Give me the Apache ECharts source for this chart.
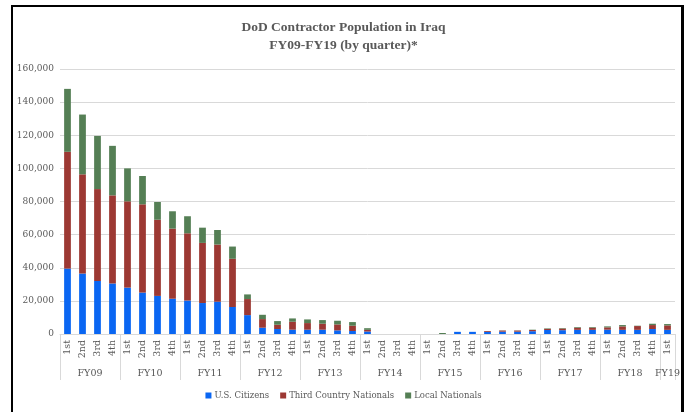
<!DOCTYPE html>
<html>
<head>
<meta charset="utf-8">
<script src="https://cdn.jsdelivr.net/npm/echarts@6/dist/echarts.min.js"></script>
<style>
html,body{margin:0;padding:0;background:#fff;}
#chart{position:absolute;left:0;top:0;width:687px;height:412px;}
#frame{position:absolute;left:11px;top:5px;width:668px;height:420px;border-left:2px solid #000;border-top:2px solid #000;border-right:3px solid #000;pointer-events:none;}
</style>
</head>
<body>
<div id="chart"></div>
<div id="frame"></div>
<script>
const fiscalYears = ['FY09','FY10','FY11','FY12','FY13','FY14','FY15','FY16','FY17','FY18','FY19'];
const quartersPerYear = [4,4,4,4,4,4,4,4,4,4,1];
const quarterNames = ['1st','2nd','3rd','4th'];
const usCitizens = [39500,36500,32000,30500, 28000,25000,23000,21300, 20200,18700,19500,16300, 11400,3800,3000,2600, 2600,2600,2200,1800, 1500,0,0,0, 0,0,1300,1300, 1300,1400,1400,1700, 2400,2300,2500,2500, 2600,2500,2500,3000, 2500];
const thirdCountry = [70500,59900,55500,53200, 52100,53300,46000,42300, 40600,36300,34500,29100, 9700,5200,2600,4800, 4000,3600,3600,3200, 1000,0,0,0, 0,0,0,0, 500,700,700,700, 700,1000,1300,1300, 1400,2100,2300,2400, 2700];
const localNationals = [38000,36100,32100,29900, 19900,17100,10700,10500, 10300,9200,8800,7400, 2800,2600,2200,2000, 2200,2200,2200,2200, 1000,0,0,0, 0,600,0,0, 0,100,100,200, 300,300,400,400, 600,800,200,800, 800];
const yTicks = [0,20000,40000,60000,80000,100000,120000,140000,160000];

const quarterLabels = [];
const groupBounds = [0];
const groupCenters = [];
let pos = 0;
fiscalYears.forEach((fy, i) => {
  const n = quartersPerYear[i];
  for (let q = 0; q < n; q++) quarterLabels.push(quarterNames[q]);
  groupCenters.push(pos + n / 2);
  pos += n;
  groupBounds.push(pos);
});

const font = 'DejaVu Serif';
const txt = '#595959';
const chart = echarts.init(document.getElementById('chart'));
chart.setOption({
  animation: false,
  title: {
    text: 'DoD Contractor Population in Iraq\nFY09-FY19 (by quarter)*',
    left: 'center', top: 14,
    textStyle: {fontFamily: 'Liberation Serif', fontWeight: 'bold', fontSize: 13.5, color: txt, lineHeight: 18}
  },
  legend: {
    bottom: 7, left: 'center',
    icon: 'rect', itemWidth: 6, itemHeight: 6, itemGap: 11,
    textStyle: {fontFamily: font, fontSize: 8.5, color: txt, padding: [0,0,0,-2]},
    data: ['U.S. Citizens','Third Country Nationals','Local Nationals']
  },
  grid: {left: 60, right: 12, top: 69, bottom: 78},
  xAxis: [{
    type: 'category', data: quarterLabels, gridIndex: 0,
    axisLine: {lineStyle: {color: '#d9d9d9'}},
    axisTick: {show: false},
    axisLabel: {rotate: 90, fontFamily: font, fontSize: 9.5, color: txt, margin: 6, interval: 0}
  }, {
    type: 'value', min: 0, max: quarterLabels.length, position: 'bottom', gridIndex: 0,
    axisLine: {show: false},
    splitLine: {show: false},
    axisTick: {show: true, customValues: groupBounds, length: 46, lineStyle: {color: '#d9d9d9'}},
    axisLabel: {
      customValues: groupCenters, fontFamily: font, fontSize: 9.5, color: txt, margin: 35,
      formatter: v => { const i = groupCenters.indexOf(v); return i >= 0 ? fiscalYears[i] : ''; }
    }
  }],
  yAxis: {
    type: 'value', min: yTicks[0], max: yTicks[yTicks.length-1], interval: yTicks[1]-yTicks[0],
    axisLine: {show: false}, axisTick: {show: false},
    axisLabel: {fontFamily: font, fontSize: 9, color: txt, margin: 6},
    splitLine: {lineStyle: {color: '#d9d9d9'}}
  },
  series: [
    {name: 'U.S. Citizens', type: 'bar', stack: 'a', data: usCitizens, barWidth: '45%', itemStyle: {color: '#0a66f2'}},
    {name: 'Third Country Nationals', type: 'bar', stack: 'a', data: thirdCountry, barWidth: '45%', itemStyle: {color: '#9c3833'}},
    {name: 'Local Nationals', type: 'bar', stack: 'a', data: localNationals, barWidth: '45%', itemStyle: {color: '#557f55'}}
  ]
});
</script>
</body>
</html>
